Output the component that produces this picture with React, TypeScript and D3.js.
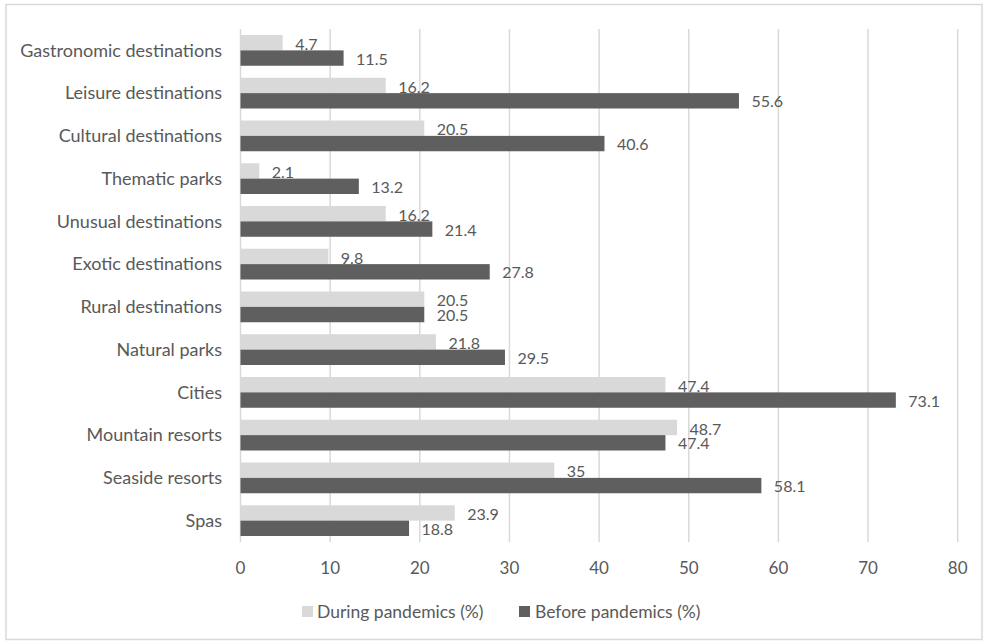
import React from "react";
import * as d3 from "d3";

const categories = [
  "Gastronomic destinations",
  "Leisure destinations",
  "Cultural destinations",
  "Thematic parks",
  "Unusual destinations",
  "Exotic destinations",
  "Rural destinations",
  "Natural parks",
  "Cities",
  "Mountain resorts",
  "Seaside resorts",
  "Spas",
];
const duringValues = [4.7, 16.2, 20.5, 2.1, 16.2, 9.8, 20.5, 21.8, 47.4, 48.7, 35, 23.9];
const beforeValues = [11.5, 55.6, 40.6, 13.2, 21.4, 27.8, 20.5, 29.5, 73.1, 47.4, 58.1, 18.8];
const xTicks = [0, 10, 20, 30, 40, 50, 60, 70, 80];
const seriesNames = ["During pandemics (%)", "Before pandemics (%)"];

const W = 988;
const H = 641;
const FONT = "Lato, 'Open Sans', sans-serif";
const TEXT = "#595959";
const GRID = "#d9d9d9";
const LIGHT = "#d9d9d9";
const DARK = "#5f5f5f";

export default function App() {
  const x = d3.scaleLinear().domain([0, 80]).range([240.5, 957.7]);
  const y = d3.scaleBand<string>().domain(categories).range([29, 542]);
  const inner = d3.scaleBand<string>().domain(["during", "before"]).range([0, y.bandwidth()]).paddingInner(0).paddingOuter(0.39);
  const barH = inner.bandwidth();
  const labelSize = 16;

  return (
    <svg width={W} height={H} style={{ position: "absolute", left: 0, top: 0, background: "#fff" }} fontFamily={FONT}>
      <rect x={6} y={4.5} width={976} height={635} fill="#fff" stroke={GRID} strokeWidth={1.5} />
      {/* vertical gridlines */}
      {xTicks.map((t) => (
        <line key={t} x1={x(t)} x2={x(t)} y1={29} y2={542} stroke={GRID} strokeWidth={1.5} />
      ))}
      {/* category labels */}
      {categories.map((c) => (
        <text key={c} x={222} y={(y(c) ?? 0) + y.bandwidth() / 2} dy="0.35em" textAnchor="end" fontSize={18} fill={TEXT}>
          {c}
        </text>
      ))}
      {/* tick labels */}
      {xTicks.map((t) => (
        <text key={t} x={x(t)} y={568} dy="0.35em" textAnchor="middle" fontSize={17} fill={TEXT}>
          {t}
        </text>
      ))}
      {/* during bars + labels */}
      {categories.map((c, i) => {
        const y0 = (y(c) ?? 0) + (inner("during") ?? 0);
        return (
          <g key={"d" + c}>
            <rect x={x(0)} y={y0} width={x(duringValues[i]) - x(0)} height={barH} fill={LIGHT} />
            <text x={x(duringValues[i]) + 12.5} y={y0 + barH / 2 + 1.5} dy="0.35em" fontSize={labelSize} fill={TEXT}>
              {duringValues[i]}
            </text>
          </g>
        );
      })}
      {/* before bars + labels */}
      {categories.map((c, i) => {
        const y0 = (y(c) ?? 0) + (inner("before") ?? 0);
        return (
          <g key={"b" + c}>
            <rect x={x(0)} y={y0} width={x(beforeValues[i]) - x(0)} height={barH} fill={DARK} />
            <text x={x(beforeValues[i]) + 12.5} y={y0 + barH / 2 + 1} dy="0.35em" fontSize={labelSize} fill={TEXT}>
              {beforeValues[i]}
            </text>
          </g>
        );
      })}
      {/* legend */}
      <rect x={302} y={606} width={11} height={11} fill={LIGHT} />
      <text x={317} y={611.5} dy="0.35em" fontSize={17.5} fill={TEXT}>{seriesNames[0]}</text>
      <rect x={519} y={606} width={11} height={11} fill={DARK} />
      <text x={535} y={611.5} dy="0.35em" fontSize={17.5} fill={TEXT}>{seriesNames[1]}</text>
    </svg>
  );
}
